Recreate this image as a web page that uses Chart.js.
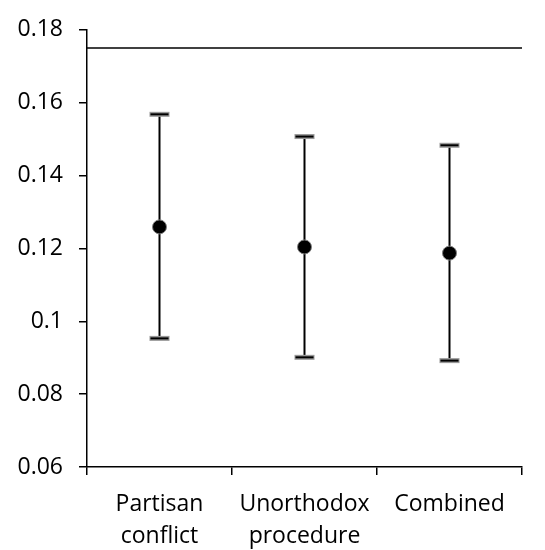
<!DOCTYPE html>
<html>
<head>
<meta charset="utf-8">
<script src="https://cdn.jsdelivr.net/npm/chart.js@4.4.0/dist/chart.umd.min.js"></script>
<style>
  body { margin: 0; background: #fff; }
  #wrap { width: 545px; height: 550px; }
</style>
</head>
<body>
<div id="wrap"><canvas id="chart" width="545" height="550"></canvas></div>
<script>
// Data
const categories = [['Partisan', 'conflict'], ['Unorthodox', 'procedure'], 'Combined'];
const estimates = [0.1259, 0.1204, 0.1187];
const lowerBounds = [0.0953, 0.0901, 0.0892];
const upperBounds = [0.1568, 0.1507, 0.1483];
const referenceValue = 0.175;

const FONT = '"Open Sans", "Liberation Sans", Arial, sans-serif';

// error bars + reference line, positioned via the chart scales
const errorBarPlugin = {
  id: 'errorBars',
  beforeDatasetsDraw(chart) {
    const { ctx, chartArea, scales } = chart;
    const y = scales.y;
    const meta = chart.getDatasetMeta(0);

    ctx.save();
    // reference line
    const ry = y.getPixelForValue(referenceValue);
    ctx.strokeStyle = '#000';
    ctx.lineWidth = 1.5;
    ctx.beginPath();
    ctx.moveTo(chartArea.left, ry);
    ctx.lineTo(chartArea.right, ry);
    ctx.stroke();

    meta.data.forEach((pt, i) => {
      const x = pt.x;
      const yTop = y.getPixelForValue(upperBounds[i]);
      const yBot = y.getPixelForValue(lowerBounds[i]);

      ctx.strokeStyle = '#000';
      ctx.lineWidth = 2;
      ctx.beginPath();
      ctx.moveTo(x, yTop);
      ctx.lineTo(x, yBot);
      ctx.stroke();

      [yTop, yBot].forEach(cy => {
        ctx.fillStyle = '#999';
        ctx.fillRect(x - 10, cy - 2.5, 20, 5);
        ctx.fillStyle = '#000';
        ctx.fillRect(x - 9, cy - 1, 18, 2);
      });
    });
    ctx.restore();
  }
};

const ctx = document.getElementById('chart').getContext('2d');

new Chart(ctx, {
  type: 'line',
  data: {
    labels: categories,
    datasets: [{
      data: estimates,
      showLine: false,
      pointRadius: 7,
      pointBackgroundColor: '#000',
      pointBorderColor: '#808080',
      pointBorderWidth: 1
    }]
  },
  options: {
    responsive: false,
    animation: false,
    layout: { padding: { top: 20, right: 23, left: 0, bottom: 0 } },
    plugins: {
      legend: { display: false },
      tooltip: { enabled: false }
    },
    scales: {
      x: {
        offset: true,
        grid: {
          offset: true,
          drawOnChartArea: false,
          drawTicks: true,
          tickLength: 8,
          color: '#000',
          lineWidth: 1.5
        },
        border: { color: '#000', width: 1.5 },
        ticks: {
          color: '#000',
          font: { family: FONT, size: 23, lineHeight: 1.4 },
          padding: 13,
          maxRotation: 0,
          autoSkip: false
        },
        afterFit(scale) { scale.height = 83; }
      },
      y: {
        min: 0.06,
        max: 0.18,
        grid: {
          drawOnChartArea: false,
          drawTicks: true,
          tickLength: 8,
          color: '#000',
          lineWidth: 1.5
        },
        border: { color: '#000', width: 1.5 },
        ticks: {
          stepSize: 0.02,
          color: '#000',
          padding: 16,
          font: { family: FONT, size: 23 },
          callback: v => String(parseFloat(v.toFixed(2)))
        },
        afterFit(scale) { scale.width = 87; }
      }
    }
  },
  plugins: [errorBarPlugin]
});
</script>
</body>
</html>
